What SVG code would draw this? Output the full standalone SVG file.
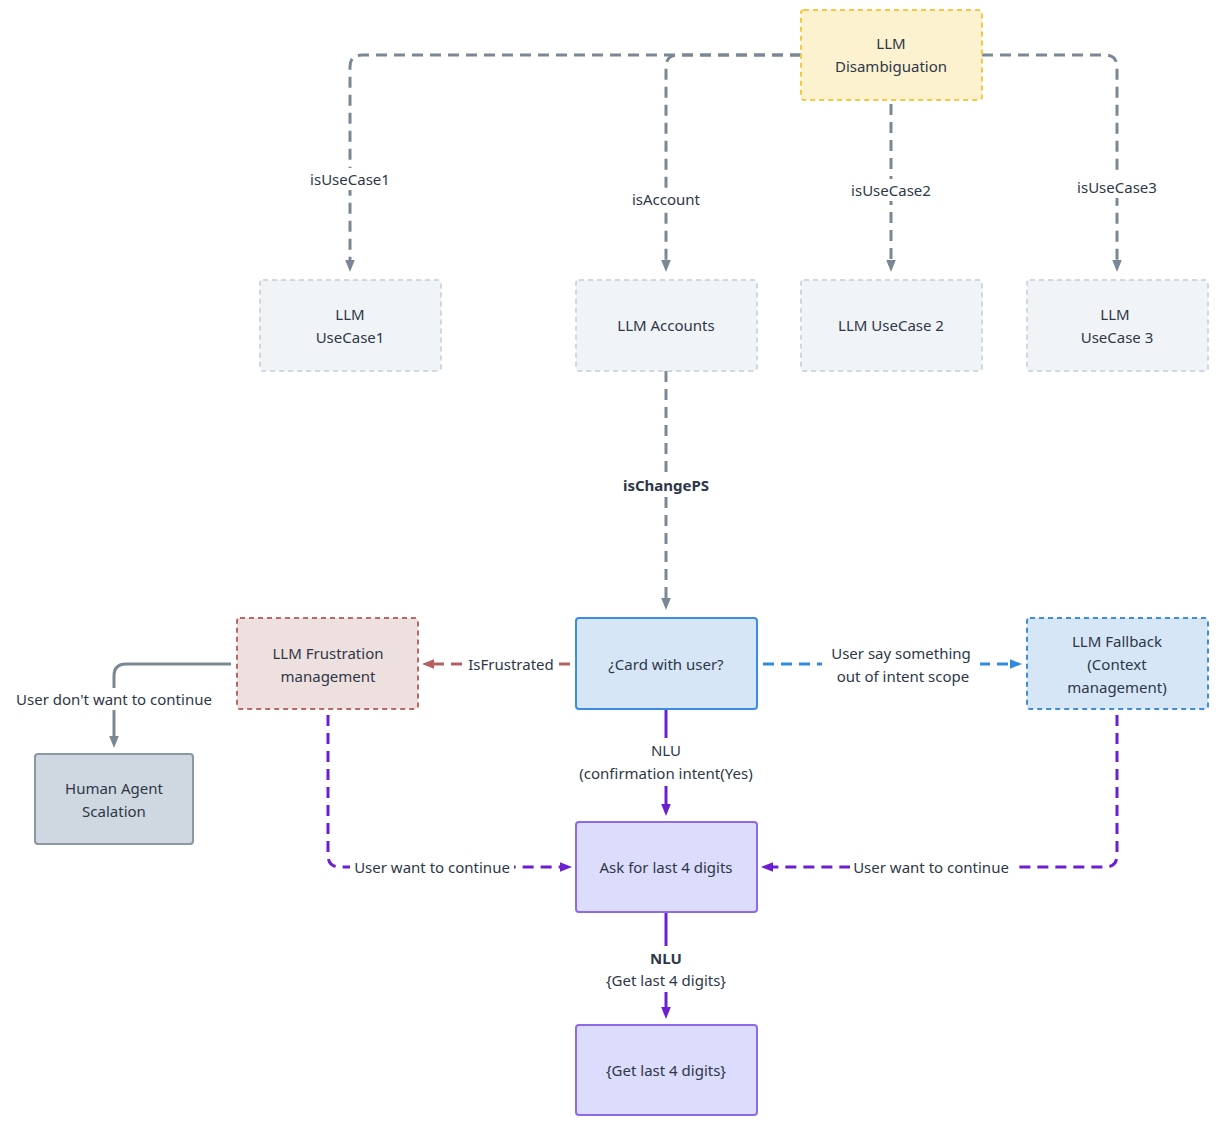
<svg xmlns="http://www.w3.org/2000/svg" width="1220" height="1125" viewBox="0 0 1220 1125">
<style>
text{font-family:"Noto Sans","Liberation Sans",sans-serif;font-size:15px;fill:#2d3748;text-anchor:middle;dominant-baseline:central}
.b{font-weight:bold}
.c{fill:none;stroke-width:3}
.g{stroke:#7a8794}
.d{stroke-dasharray:11 7}
.p{stroke:#6c1fd0}
.lb{fill:#fff}
</style>
<defs>
<marker id="ag" viewBox="0 0 10 10" refX="5" refY="5" markerWidth="4" markerHeight="4" orient="auto"><path d="M0,1 L10,5 L0,9z" fill="#7a8794"/></marker>
<marker id="ap" viewBox="0 0 10 10" refX="5" refY="5" markerWidth="4" markerHeight="4" orient="auto"><path d="M0,1 L10,5 L0,9z" fill="#6c1fd0"/></marker>
<marker id="ar" viewBox="0 0 10 10" refX="5" refY="5" markerWidth="4" markerHeight="4" orient="auto"><path d="M0,1 L10,5 L0,9z" fill="#b56060"/></marker>
<marker id="ab" viewBox="0 0 10 10" refX="5" refY="5" markerWidth="4" markerHeight="4" orient="auto"><path d="M0,1 L10,5 L0,9z" fill="#2f8ae0"/></marker>
</defs>
<rect width="1220" height="1125" fill="#fff"/>
<g id="connectors">
<path class="c g d" d="M801 55 H362 Q350 55 350 67 V266" marker-end="url(#ag)"/>
<path class="c g d" d="M801 55 H678 Q666 55 666 67 V266" marker-end="url(#ag)"/>
<path class="c g d" d="M982 55 H1105 Q1117 55 1117 67 V266" marker-end="url(#ag)"/>
<path class="c g d" d="M891 104 V266" marker-end="url(#ag)"/>
<path class="c g d" d="M666 371 V604" marker-end="url(#ag)"/>
<path class="c d" stroke="#b56060" d="M570 664 H428" marker-end="url(#ar)"/>
<path class="c d" stroke="#2f8ae0" d="M763 664 H1016" marker-end="url(#ab)"/>
<path class="c p" d="M666 709 V810" marker-end="url(#ap)"/>
<path class="c p d" d="M328 715 V855 Q328 867 340 867 H566" marker-end="url(#ap)"/>
<path class="c p d" d="M1117 715 V855 Q1117 867 1105 867 H767" marker-end="url(#ap)"/>
<path class="c p" d="M666 912 V1013" marker-end="url(#ap)"/>
<path class="c g" d="M231 664 H126 Q114 664 114 676 V742" marker-end="url(#ag)"/>
<rect class="lb" x="305" y="168" width="90" height="22"/><text x="350" y="179">isUseCase1</text>
<rect class="lb" x="626" y="188" width="80" height="22"/><text x="666" y="199">isAccount</text>
<rect class="lb" x="846" y="179" width="90" height="22"/><text x="891" y="190">isUseCase2</text>
<rect class="lb" x="1072" y="176" width="90" height="22"/><text x="1117" y="187">isUseCase3</text>
<rect class="lb" x="616" y="474" width="100" height="22"/><text class="b" x="666" y="485">isChangePS</text>
<rect class="lb" x="465" y="653" width="92" height="22"/><text x="511" y="664">IsFrustrated</text>
<rect class="lb" x="822" y="641" width="158" height="46"/><text x="901" y="653">User say something</text><text x="903" y="676">out of intent scope</text>
<rect class="lb" x="576" y="738" width="181" height="48"/><text x="666" y="750">NLU</text><text x="666" y="773">(confirmation intent(Yes)</text>
<rect class="lb" x="350" y="856" width="164" height="22"/><text x="432" y="867">User want to continue</text>
<rect class="lb" x="850" y="856" width="164" height="22"/><text x="931" y="867">User want to continue</text>
<rect class="lb" x="600" y="946" width="132" height="46"/><text class="b" x="666" y="958">NLU</text><text x="666" y="980">{Get last 4 digits}</text>
<rect class="lb" x="10" y="688" width="208" height="22"/><text x="114" y="699">User don't want to continue</text>
</g>
<g id="disambiguation"><rect x="801" y="10" width="181" height="90" rx="3" fill="#fdf2d0" stroke="#f5c842" stroke-width="2" stroke-dasharray="5 4"/><text x="891" y="43">LLM</text><text x="891" y="66">Disambiguation</text></g>
<g id="usecase1"><rect x="260" y="280" width="181" height="91" rx="3" fill="#f1f4f7" stroke="#cfd7df" stroke-width="2" stroke-dasharray="5 4"/><text x="350" y="314">LLM</text><text x="350" y="337">UseCase1</text></g>
<g id="accounts"><rect x="576" y="280" width="181" height="91" rx="3" fill="#f1f4f7" stroke="#cfd7df" stroke-width="2" stroke-dasharray="5 4"/><text x="666" y="325">LLM Accounts</text></g>
<g id="usecase2"><rect x="801" y="280" width="181" height="91" rx="3" fill="#f1f4f7" stroke="#cfd7df" stroke-width="2" stroke-dasharray="5 4"/><text x="891" y="325">LLM UseCase 2</text></g>
<g id="usecase3"><rect x="1027" y="280" width="181" height="91" rx="3" fill="#f1f4f7" stroke="#cfd7df" stroke-width="2" stroke-dasharray="5 4"/><text x="1115" y="314">LLM</text><text x="1117" y="337">UseCase 3</text></g>
<g id="frustration"><rect x="237" y="618" width="181" height="91" rx="3" fill="#efe0e0" stroke="#b96868" stroke-width="2" stroke-dasharray="5 4"/><text x="328" y="653">LLM Frustration</text><text x="328" y="676">management</text></g>
<g id="card"><rect x="576" y="618" width="181" height="91" rx="3" fill="#d6e6f6" stroke="#3a8de0" stroke-width="2"/><text x="666" y="664">¿Card with user?</text></g>
<g id="fallback"><rect x="1027" y="618" width="181" height="91" rx="3" fill="#d6e6f6" stroke="#3a8de0" stroke-width="2" stroke-dasharray="5 4"/><text x="1117" y="641">LLM Fallback</text><text x="1117" y="664">(Context</text><text x="1117" y="687">management)</text></g>
<g id="human"><rect x="35" y="754" width="158" height="90" rx="3" fill="#cfd8e0" stroke="#8a97a4" stroke-width="2"/><text x="114" y="788">Human Agent</text><text x="114" y="811">Scalation</text></g>
<g id="ask"><rect x="576" y="822" width="181" height="90" rx="3" fill="#dcdcfc" stroke="#8e6ae8" stroke-width="2"/><text x="666" y="867">Ask for last 4 digits</text></g>
<g id="get"><rect x="576" y="1025" width="181" height="90" rx="3" fill="#dcdcfc" stroke="#8e6ae8" stroke-width="2"/><text x="666" y="1070">{Get last 4 digits}</text></g>
</svg>
